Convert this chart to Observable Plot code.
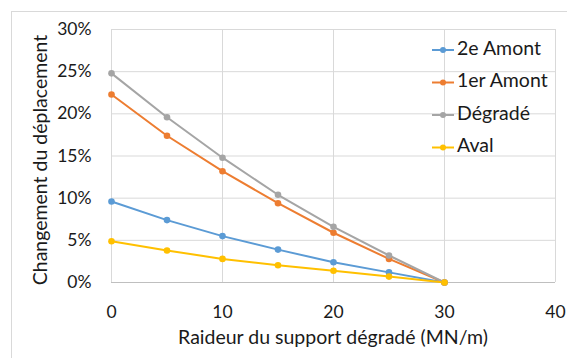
<!DOCTYPE html>
<html><head><meta charset="utf-8">
<script src="https://cdn.jsdelivr.net/npm/d3@7"></script>
<script src="https://cdn.jsdelivr.net/npm/@observablehq/plot@0.6"></script>
<style>
body{margin:0;background:#fff;}
#chart{position:relative;width:567px;height:358px;}
</style></head>
<body><div id="chart"></div>
<script>
const xs = [0, 5, 10, 15, 20, 25, 30];
const seriesNames = ["2e Amont", "1er Amont", "Dégradé", "Aval"];
const amont2 = [0.096, 0.074, 0.055, 0.039, 0.024, 0.012, 0];
const amont1 = [0.223, 0.174, 0.132, 0.094, 0.059, 0.028, 0];
const degrade = [0.248, 0.196, 0.148, 0.104, 0.066, 0.032, 0];
const aval = [0.049, 0.038, 0.028, 0.0205, 0.014, 0.007, 0];
const colors = ["#5B9BD5", "#ED7D31", "#A5A5A5", "#FFC000"];
const xTicks = [0, 10, 20, 30, 40];
const yTicks = [0, 0.05, 0.10, 0.15, 0.20, 0.25, 0.30];

const allVals = [amont2, amont1, degrade, aval];
const data = [];
seriesNames.forEach((s, i) => xs.forEach((x, j) => data.push({series: s, x, y: allVals[i][j]})));

const font = "Lato, Carlito, sans-serif";
const plot = Plot.plot({
  width: 567, height: 358,
  marginLeft: 111, marginRight: 12, marginTop: 29, marginBottom: 76,
  style: {fontFamily: font, fontSize: "17.5px", color: "#1a1a1a", background: "transparent"},
  x: {domain: [0, 40], ticks: xTicks, label: null, tickSize: 0, tickPadding: 22},
  y: {domain: [0, 0.30], ticks: yTicks, tickFormat: d3.format(".0%"), label: null, tickSize: 0, tickPadding: 20},
  color: {domain: seriesNames, range: colors},
  marks: [
    Plot.gridX(xTicks, {stroke: "#d9d9d9", strokeOpacity: 1, strokeWidth: 1}),
    Plot.gridY(yTicks, {stroke: "#d9d9d9", strokeOpacity: 1, strokeWidth: 1}),
    Plot.ruleY([0], {stroke: "#bfbfbf", strokeWidth: 1}),
    Plot.axisX({ticks: xTicks, tickSize: 0, tickPadding: 23, label: null, fontSize: 17.5}),
    Plot.axisY({ticks: yTicks, tickSize: 0, tickPadding: 20, tickFormat: d3.format(".0%"), label: null, fontSize: 17.5}),
    Plot.line(data, {x: "x", y: "y", z: "series", stroke: "series", strokeWidth: 2}),
    Plot.dot(data, {x: "x", y: "y", fill: "series", r: 3.3, stroke: "none"})
  ]
});
document.getElementById("chart").appendChild(plot);

const svg = d3.select(plot);
svg.insert("rect", ":first-child").attr("x", 11.5).attr("y", 11.5).attr("width", 600).attr("height", 400)
  .attr("fill", "none").attr("stroke", "#d9d9d9");
const titleStyle = sel => sel.style("font-family", font).style("font-size", "19.5px").attr("fill", "#1a1a1a");
svg.append("text").attr("x", 333).attr("y", 339).attr("text-anchor", "middle").attr("dominant-baseline", "middle")
  .call(titleStyle).text("Raideur du support dégradé (MN/m)");
svg.append("text").attr("transform", "translate(42,160) rotate(-90)").attr("text-anchor", "middle").attr("dominant-baseline", "middle")
  .call(titleStyle).text("Changement du déplacement");
const lg = svg.append("g");
seriesNames.forEach((s, i) => {
  const y = 50 + i * 32.5;
  lg.append("line").attr("x1", 432).attr("x2", 454).attr("y1", y).attr("y2", y).attr("stroke", colors[i]).attr("stroke-width", 2);
  lg.append("circle").attr("cx", 443).attr("cy", y).attr("r", 3).attr("fill", colors[i]);
  lg.append("text").attr("x", 457).attr("y", y).attr("text-anchor", "start").attr("dominant-baseline", "middle")
    .call(titleStyle).text(s);
});
</script></body></html>
